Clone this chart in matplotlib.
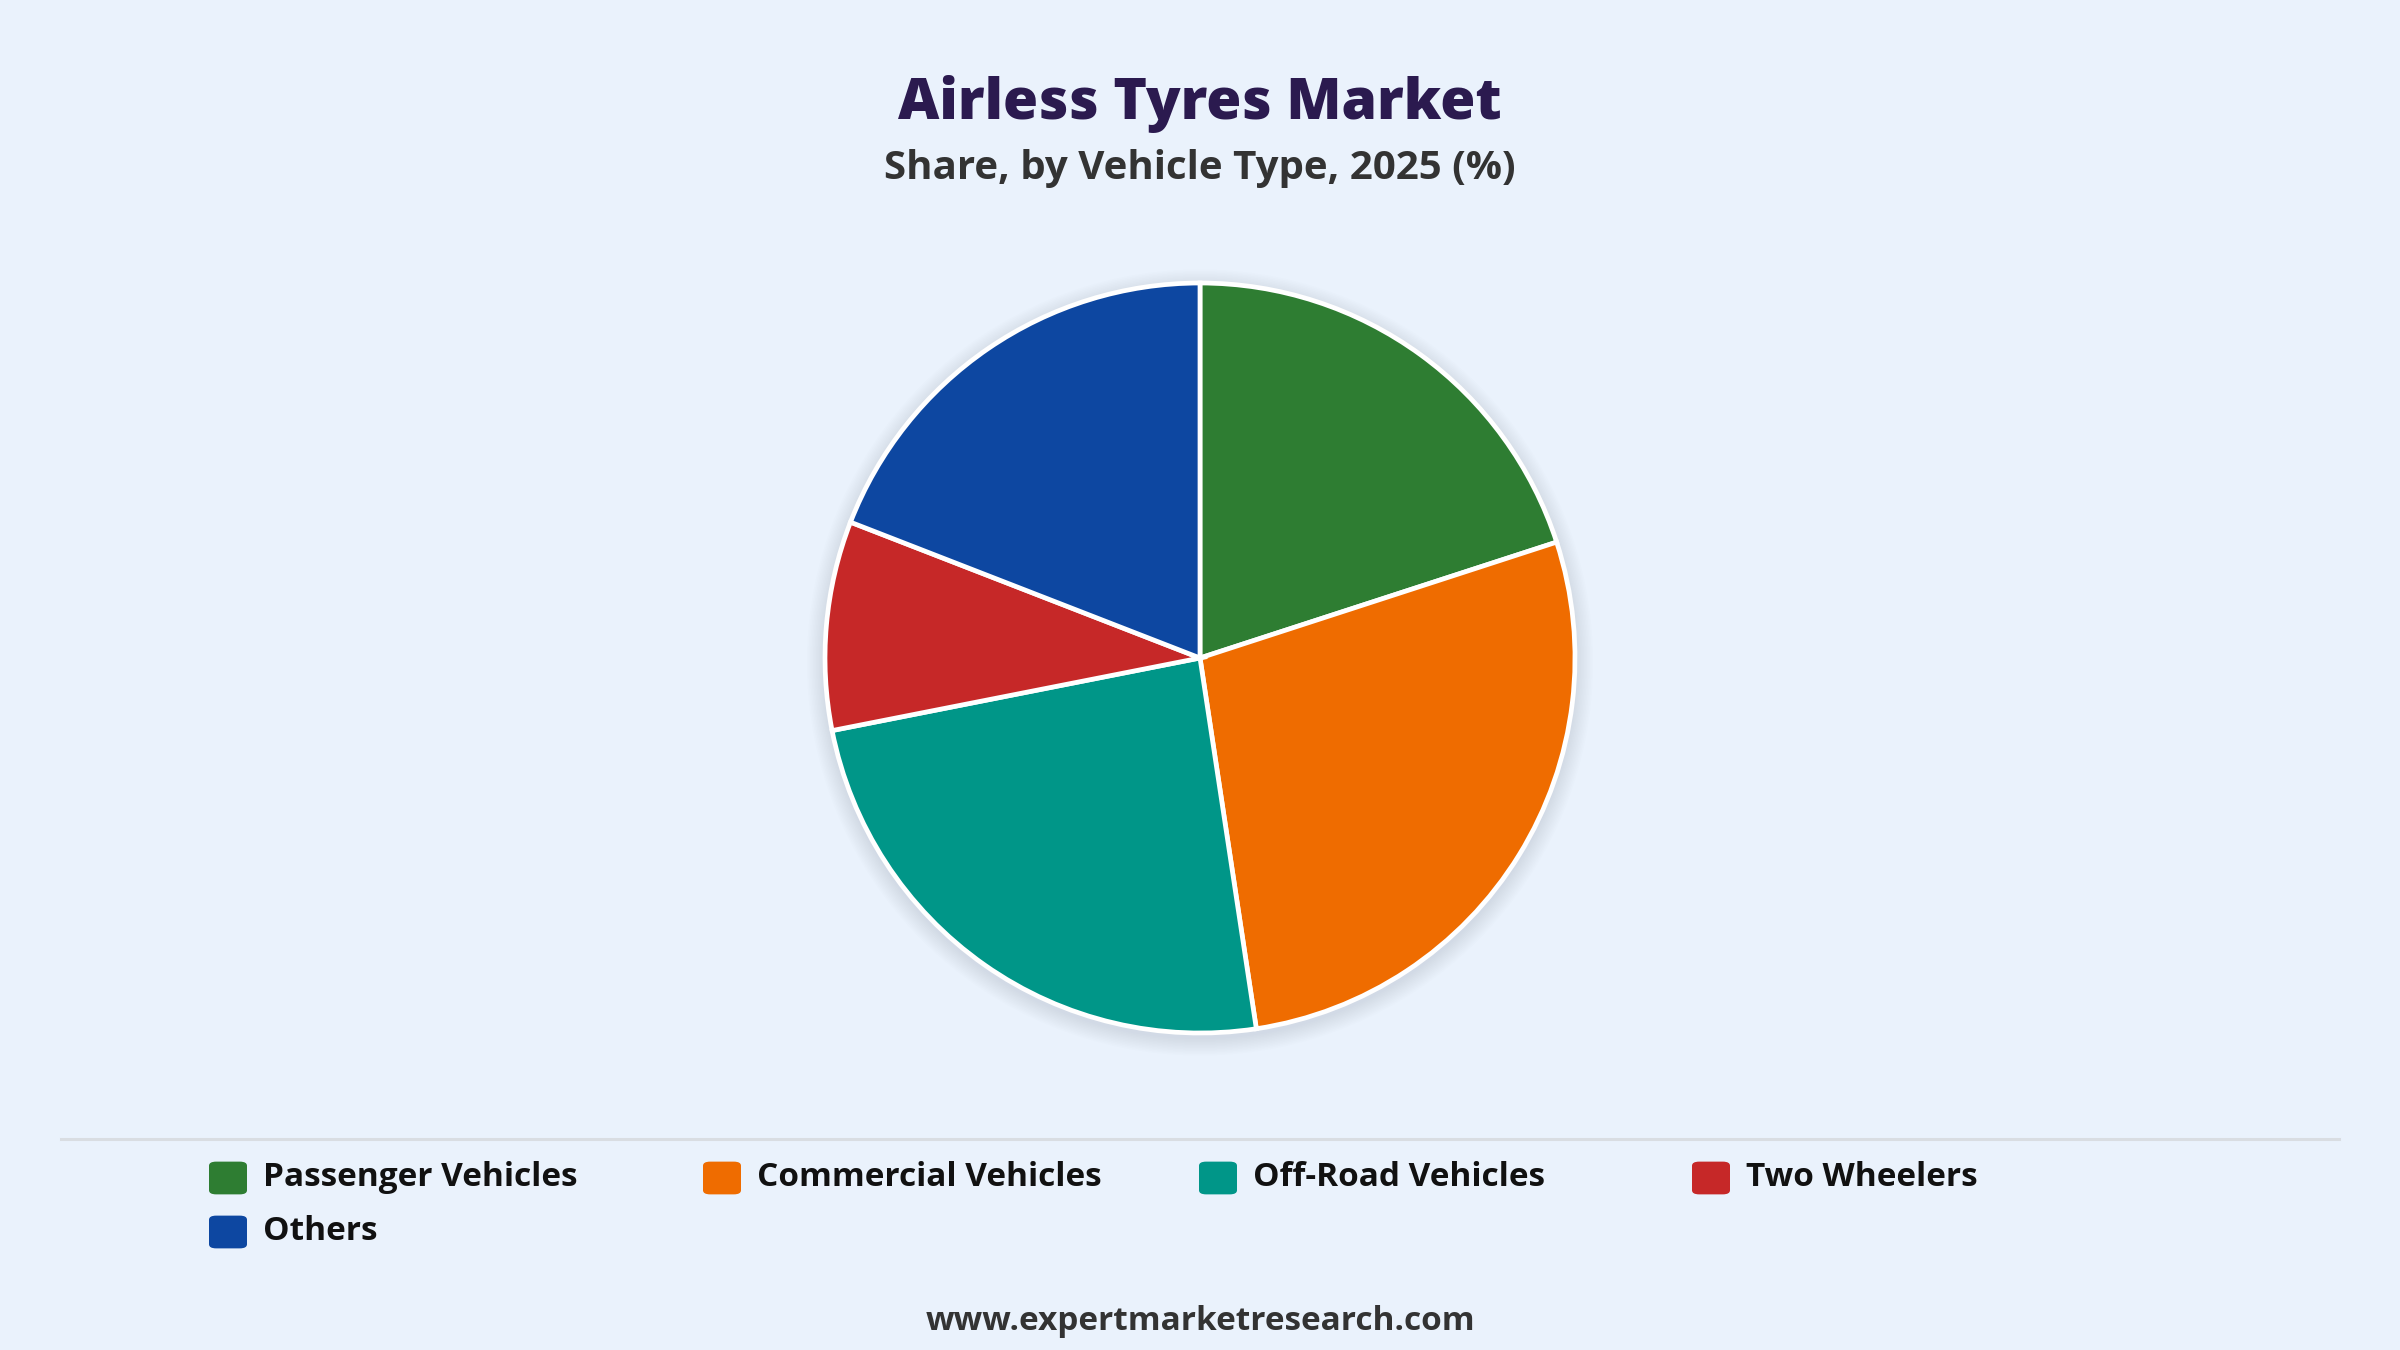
import matplotlib.pyplot as plt
from matplotlib.patches import Circle, FancyBboxPatch
from matplotlib.lines import Line2D

categories = ['Passenger Vehicles', 'Commercial Vehicles', 'Off-Road Vehicles',
              'Two Wheelers', 'Others']
shares = [20.0, 27.6, 24.3, 9.0, 19.1]
colors = ['#2E7D32', '#EF6C00', '#009688', '#C62828', '#0D47A1']

bg = '#EAF2FC'
W, H = 2400, 1350
font = 'Open Sans'

fig = plt.figure(figsize=(24, 13.5), dpi=100, facecolor=bg)

# pie axes: centre at (1200, 658) px, radius 375 px
r_px = 375
lim = 1.12
side = 2 * r_px * lim
cx, cy = 1200, H - 658
ax = fig.add_axes([(cx - side / 2) / W, (cy - side / 2) / H, side / W, side / H])
ax.set_facecolor(bg)

# soft shadow behind the pie
for i in range(12):
    ax.add_patch(Circle((0.0, -0.012), 1.0 + 0.004 * (i + 1), color='#A9B6C4',
                        alpha=0.028, lw=0, zorder=0))

ax.pie(shares, colors=colors, startangle=90, counterclock=False, radius=1.0,
       wedgeprops=dict(edgecolor='white', linewidth=3.4, zorder=2))
ax.set_xlim(-lim, lim)
ax.set_ylim(-lim, lim)
ax.set_aspect('equal')
ax.axis('off')

fig.text(0.5, 1 - 104 / H, 'Airless Tyres Market', ha='center', va='center',
         fontsize=41, fontweight='heavy', family=font, color='#2B1A4F')
fig.text(0.5, 1 - 169 / H, 'Share, by Vehicle Type, 2025 (%)', ha='center', va='center',
         fontsize=29, fontweight='bold', family=font, color='#333333')

# separator line
fig.add_artist(Line2D([61 / W, 2339 / W], [1 - 1139 / H, 1 - 1139 / H],
                      color='#D9DDE2', lw=2.2))

# legend, four columns
col_x = [211, 705, 1201, 1694]
row_y = [1178, 1232]
box = 34
for i, (lab, c) in enumerate(zip(categories, colors)):
    x0 = col_x[i % 4]
    y0 = row_y[i // 4]
    fig.add_artist(FancyBboxPatch(((x0 + 4) / W, (H - y0 - box / 2 + 4) / H),
                                  (box - 8) / W, (box - 8) / H,
                                  boxstyle='round,pad=0.0025,rounding_size=0.003',
                                  transform=fig.transFigure, facecolor=c,
                                  edgecolor='none'))
    fig.text((x0 + box + 18) / W, 1 - y0 / H, lab, ha='left', va='center',
             fontsize=24, fontweight='bold', family=font, color='#111111')

fig.text(0.5, 1 - 1322 / H, 'www.expertmarketresearch.com', ha='center', va='center',
         fontsize=24, fontweight='bold', family=font, color='#333333')

fig.savefig('out.png', dpi=100, facecolor=bg)
